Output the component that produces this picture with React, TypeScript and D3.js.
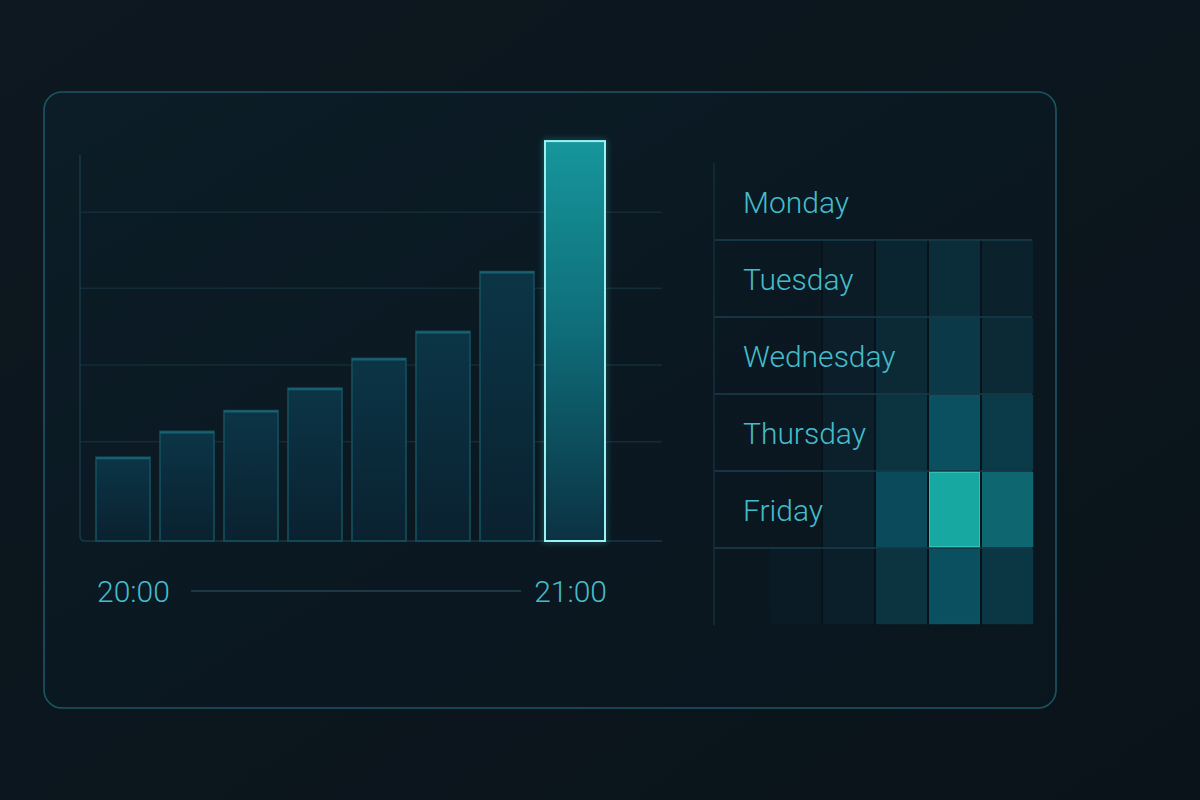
import React from "react";
import * as d3 from "d3";

const barCategories = ["b1", "b2", "b3", "b4", "b5", "b6", "b7", "b8"];
const barValues = [21.7, 28.4, 33.8, 39.6, 47.3, 54.3, 69.8, 103.6];
const gridValues = [25.7, 45.6, 65.5, 85.2];
const timeLabels = ["20:00", "21:00"];

const days = ["Monday", "Tuesday", "Wednesday", "Thursday", "Friday", ""];
const slots = ["s0", "s1", "s2", "s3", "s4", "s5"];
const heatValues: number[][] = [
  [0, 0, 0, 0, 0, 0],
  [0, 0, 0.03, 0.17, 0.3, 0.12],
  [0, 0, 0.07, 0.25, 0.4, 0.25],
  [0, 0, 0.1, 0.35, 0.6, 0.41],
  [0, 0, 0.14, 0.55, 1.0, 0.7],
  [0, 0.02, 0.08, 0.35, 0.6, 0.38],
];

const W = 1200;
const H = 800;
const FONT = "Roboto, 'Open Sans', sans-serif";
const TEXT = "#44bccb";

export default function App() {
  const x = d3
    .scaleBand<string>()
    .domain(barCategories)
    .range([80, 614])
    .paddingInner(0.156)
    .paddingOuter(0.25);
  const y = d3.scaleLinear().domain([0, 100]).range([541, 155]);
  const last = barCategories.length - 1;

  const col = d3.scaleBand<string>().domain(slots).range([716, 1034]);
  const row = d3.scaleBand<string>().domain(days.map((d, i) => String(i))).range([163, 625]);
  const heatColor = d3
    .scaleLinear<string>()
    .domain([0, 0.3, 0.6, 1])
    .range(["#0b1a24", "#0b2d3a", "#0b5060", "#17a8a2"])
    .interpolate(d3.interpolateRgb);

  const x0 = x(barCategories[0])!;
  const x1 = x(barCategories[last])! + x.bandwidth() + 6;

  return (
    <div style={{ position: "absolute", left: 0, top: 0 }}>
      <svg width={W} height={H} style={{ display: "block" }} fontFamily={FONT}>
        <defs>
          <linearGradient id="bg" x1="0" y1="0" x2="1" y2="1">
            <stop offset="0" stopColor="#0d1820" />
            <stop offset="1" stopColor="#0a131a" />
          </linearGradient>
          <linearGradient id="card" x1="0" y1="0" x2="1" y2="1">
            <stop offset="0" stopColor="#0c1d27" />
            <stop offset="0.5" stopColor="#0a1821" />
            <stop offset="1" stopColor="#0a161e" />
          </linearGradient>
          <linearGradient id="barG" x1="0" y1="0" x2="0" y2="1">
            <stop offset="0" stopColor="#0b3546" />
            <stop offset="1" stopColor="#0a2130" />
          </linearGradient>
          <linearGradient id="barHi" x1="0" y1="0" x2="0" y2="1">
            <stop offset="0" stopColor="#16969b" />
            <stop offset="0.45" stopColor="#0f6f7b" />
            <stop offset="1" stopColor="#0b3243" />
          </linearGradient>
          <filter id="glow" x="-30%" y="-10%" width="160%" height="120%">
            <feGaussianBlur stdDeviation="3" result="b" />
            <feMerge>
              <feMergeNode in="b" />
              <feMergeNode in="SourceGraphic" />
            </feMerge>
          </filter>
        </defs>
        <rect width={W} height={H} fill="url(#bg)" />
        <rect
          x={44}
          y={92}
          width={1012}
          height={616}
          rx={18}
          fill="url(#card)"
          stroke="#1a5764"
          strokeWidth={1.6}
        />

        {/* grid lines */}
        {gridValues.map((g) => (
          <line key={g} x1={80} x2={662} y1={y(g)} y2={y(g)} stroke="#142c37" strokeWidth={1.5} />
        ))}
        {/* left axis & baseline */}
        <path
          d={`M80,155 L80,${y(0) - 5} Q80,${y(0)} 85,${y(0)} L662,${y(0)}`}
          fill="none"
          stroke="#173845"
          strokeWidth={1.5}
        />

        {/* bars */}
        {barValues.map((v, i) => {
          const hi = i === last;
          const bx = x(barCategories[i])! + (hi ? 1 : 0);
          const bw = x.bandwidth() + (hi ? 6 : 0);
          return (
            <g key={i}>
              {hi && (
                <rect
                  x={bx}
                  y={y(v)}
                  width={bw}
                  height={y(0) - y(v)}
                  fill="none"
                  stroke="#3fd6e0"
                  strokeWidth={2}
                  opacity={0.6}
                  filter="url(#glow)"
                />
              )}
              <rect
                x={bx}
                y={y(v)}
                width={bw}
                height={y(0) - y(v)}
                fill={hi ? "url(#barHi)" : "url(#barG)"}
                stroke={hi ? "#9ef0f2" : "#14505f"}
                strokeWidth={hi ? 2 : 1.6}
              />
              {!hi && (
                <line
                  x1={bx}
                  x2={bx + bw}
                  y1={y(v) + 1}
                  y2={y(v) + 1}
                  stroke="#1a6272"
                  strokeWidth={2}
                />
              )}
            </g>
          );
        })}

        {/* time axis */}
        <text x={x0 + 1} y={602} fill={TEXT} fontSize={30} fontWeight={300} textAnchor="start">
          {timeLabels[0]}
        </text>
        <text x={x1 + 3} y={602} fill={TEXT} fontSize={30} fontWeight={300} textAnchor="end">
          {timeLabels[1]}
        </text>
        <line x1={191} x2={521} y1={591} y2={591} stroke="#1c3844" strokeWidth={2} />

        {/* heatmap */}
        {heatValues.map((r, ri) =>
          r.map((v, ci) =>
            v > 0 ? (
              <rect
                key={`${ri}-${ci}`}
                x={col(slots[ci])! + 1}
                y={row(String(ri))! + 1}
                width={col.bandwidth() - 2}
                height={row.bandwidth() - 2}
                fill={heatColor(v)}
                stroke={v >= 1 ? "#3ccfc6" : d3.color(heatColor(v))!.brighter(0.25).formatHex()}
                strokeWidth={v >= 1 ? 1.5 : 0.8}
                strokeOpacity={v >= 1 ? 0.9 : 0.5}
              />
            ) : null
          )
        )}
        {/* heatmap column gaps */}
        {slots.slice(2).map((s) => (
          <line
            key={s}
            x1={col(s)!}
            x2={col(s)!}
            y1={row("1")!}
            y2={625}
            stroke="#08121a"
            strokeWidth={2}
          />
        ))}
        {/* row lines */}
        {days.slice(1).map((d, i) => (
          <line
            key={i}
            x1={714}
            x2={1032}
            y1={row(String(i + 1))!}
            y2={row(String(i + 1))!}
            stroke="#1a4552"
            strokeWidth={1.5}
            opacity={0.9}
          />
        ))}
        <line x1={714} x2={714} y1={163} y2={625} stroke="#13303b" strokeWidth={1.5} />

        {days.map((d, i) =>
          d ? (
            <text
              key={d}
              x={743}
              y={row(String(i))! + row.bandwidth() / 2 + 11}
              fill={TEXT}
              fontSize={30}
              fontWeight={300}
            >
              {d}
            </text>
          ) : null
        )}
      </svg>
    </div>
  );
}
